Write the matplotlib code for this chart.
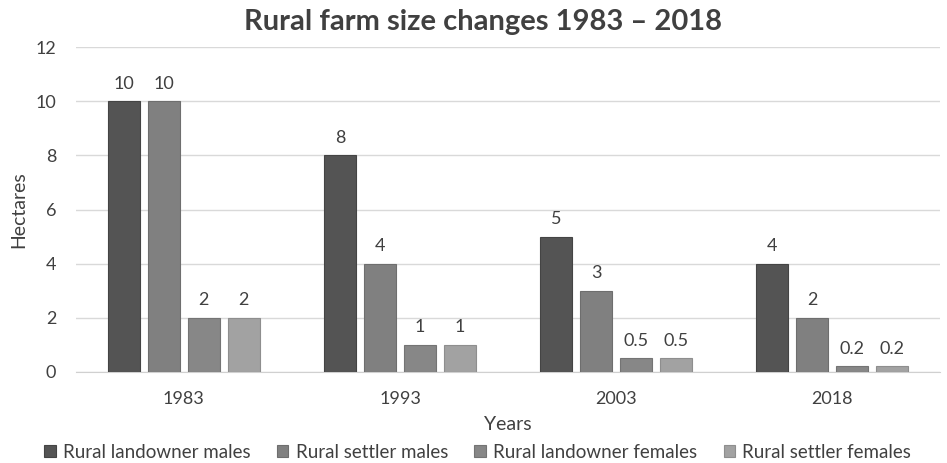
import matplotlib
matplotlib.use("Agg")
import matplotlib.pyplot as plt
import numpy as np

plt.rcParams['font.family'] = ['Lato', 'DejaVu Sans']

years = ["1983", "1993", "2003", "2018"]
series_names = ["Rural landowner males", "Rural settler males",
                "Rural landowner females", "Rural settler females"]
landowner_males = [10, 8, 5, 4]
settler_males = [10, 4, 3, 2]
landowner_females = [2, 1, 0.5, 0.2]
settler_females = [2, 1, 0.5, 0.2]
series = [landowner_males, settler_males, landowner_females, settler_females]
colors = ["#545454", "#808080", "#878787", "#a2a2a2"]
edges = ["#444444", "#6e6e6e", "#747474", "#8e8e8e"]

fig = plt.figure(figsize=(9.47, 4.63), dpi=100)
ax = fig.add_axes([0.080, 0.197, 0.913, 0.701])

x = np.arange(len(years))
w = 0.148
step = 0.185
txt = "#404040"
for i, (vals, name) in enumerate(zip(series, series_names)):
    pos = x + (i - 1.5) * step
    ax.bar(pos, vals, width=w, color=colors[i], edgecolor=edges[i],
           linewidth=0.8, label=name, zorder=3)
    for p, v in zip(pos, vals):
        ax.text(p, v + 0.35, f"{v:g}", ha="center", va="bottom", fontsize=13, color=txt)

ax.set_xlim(-0.5, len(years) - 0.5)
ax.set_ylim(0, 12)
ax.set_yticks(range(0, 13, 2))
ax.set_xticks(x)
ax.set_xticklabels(years)
ax.tick_params(axis="both", length=0, labelsize=13, colors=txt)
ax.tick_params(axis="y", pad=14)
ax.tick_params(axis="x", pad=14)
ax.grid(axis="y", color="#d9d9d9", linewidth=1, zorder=0)
for s in ["top", "right", "left"]:
    ax.spines[s].set_visible(False)
ax.spines["bottom"].set_color("#d0d0d0")
ax.set_ylabel("Hectares", fontsize=14, color=txt, labelpad=6)
ax.set_xlabel("Years", fontsize=14, color=txt, labelpad=6)
fig.text(0.51, 0.953, "Rural farm size changes 1983 – 2018", ha="center", va="center",
         fontsize=21, fontweight="bold", color="#404040")
ax.legend(loc="center", bbox_to_anchor=(0.465, -0.248), ncol=4, frameon=False,
          fontsize=13.5, handlelength=0.6, handleheight=0.6, handletextpad=0.4,
          columnspacing=1.4, labelcolor=txt)

fig.savefig("out.png", dpi=100)
